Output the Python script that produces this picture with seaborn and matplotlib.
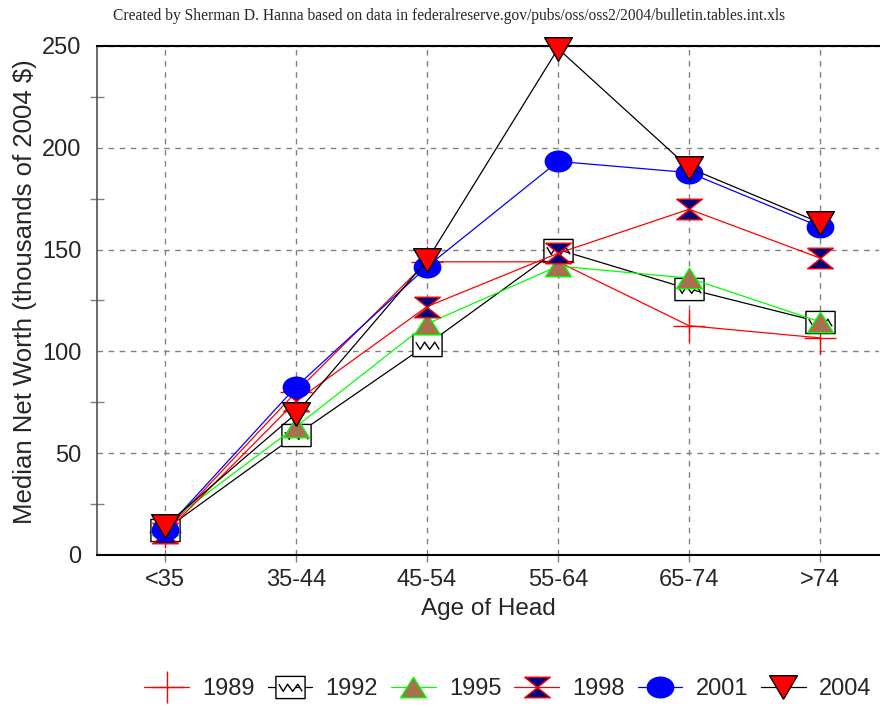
import numpy as np
import pandas as pd
import matplotlib
matplotlib.use('Agg')
import matplotlib.pyplot as plt
from matplotlib.path import Path
from matplotlib.ticker import MultipleLocator
import seaborn as sns

# Data (thousands of 2004 $)
age_groups = ['<35', '35-44', '45-54', '55-64', '65-74', '>74']
years = ['1989', '1992', '1995', '1998', '2001', '2004']
nw_1989 = [11.4, 80.0, 144.0, 144.0, 112.6, 106.6]
nw_1992 = [12.4, 58.9, 103.3, 150.0, 130.6, 114.4]
nw_1995 = [14.8, 63.0, 113.5, 141.9, 136.0, 114.5]
nw_1998 = [10.6, 75.5, 122.0, 148.2, 169.8, 145.8]
nw_2001 = [12.3, 82.6, 141.6, 193.3, 187.8, 161.2]
nw_2004 = [14.2, 69.4, 144.7, 248.7, 190.1, 163.1]

rows = []
for yr, vals in zip(years, [nw_1989, nw_1992, nw_1995, nw_1998, nw_2001, nw_2004]):
    for i, v in enumerate(vals):
        rows.append({'year': yr, 'age': i, 'worth': v})
df = pd.DataFrame(rows)


def scaled(verts, sx=1.0, sy=1.0, codes=None):
    v = np.asarray(verts, dtype=float) * [sx, sy]
    return Path(v, codes)


# custom marker shapes (slightly flattened like the original)
circ = Path.unit_circle()
ellipse = Path(circ.vertices * [1.0, 0.78], circ.codes)
tri_up = scaled([(0, 1), (-1, -1), (1, -1), (0, 1)], 1.0, 0.8)
tri_down = scaled([(0, -1), (-1, 1), (1, 1), (0, -1)], 1.0, 0.85)
hourglass = scaled([(-1, 1), (1, 1), (-1, -1), (1, -1), (-1, 1)], 1.0, 0.8)
sq_verts = [(-1, -1), (1, -1), (1, 1), (-1, 1), (-1, -1),
            (-0.8, 0.3), (-0.5, -0.35), (-0.2, 0.3), (0.15, -0.35), (0.5, 0.3), (0.8, -0.35)]
sq_codes = [Path.MOVETO, Path.LINETO, Path.LINETO, Path.LINETO, Path.CLOSEPOLY,
            Path.MOVETO, Path.LINETO, Path.LINETO, Path.LINETO, Path.LINETO, Path.LINETO]
zig_square = scaled(sq_verts, 1.0, 0.76, sq_codes)

styles = {
    '1989': dict(color='#ff0000', marker='+', ms=23, mec='#ff0000', mfc='none'),
    '1992': dict(color='black', marker=zig_square, ms=21, mec='black', mfc='white'),
    '1995': dict(color='#00ff00', marker=tri_up, ms=18.5, mec='#00ff00', mfc='#a8704f'),
    '1998': dict(color='#ff0000', marker=hourglass, ms=18.5, mec='#ff0000', mfc='#000080'),
    '2001': dict(color='#0000ff', marker=ellipse, ms=19, mec='#0000ff', mfc='#0000ff'),
    '2004': dict(color='black', marker=tri_down, ms=20, mec='black', mfc='#ff0000'),
}

sns.set_style('white')
plt.rcParams['font.family'] = ['Liberation Sans', 'DejaVu Sans']

fig = plt.figure(figsize=(8.8, 7.05), dpi=100)
ax = fig.add_axes([0.110, 0.2128, 0.889, 0.7220])

for yr in years:
    st = styles[yr]
    sns.lineplot(data=df[df['year'] == yr], x='age', y='worth', ax=ax,
                 color=st['color'], linewidth=0.9, marker=st['marker'],
                 markersize=st['ms'], markeredgecolor=st['mec'],
                 markerfacecolor=st['mfc'], markeredgewidth=1.0,
                 label=yr, sort=False, errorbar=None, clip_on=False, zorder=3)

ax.set_xlim(-0.52, 5.45)
ax.set_ylim(0, 250)
ax.set_xticks(range(len(age_groups)))
ax.set_xticklabels(age_groups)
ax.yaxis.set_major_locator(MultipleLocator(50))
ax.yaxis.set_minor_locator(MultipleLocator(25))

ax.grid(True, which='major', color='#808080', linestyle=(0, (4, 4)), linewidth=1.0)
ax.set_axisbelow(True)

for side in ['top', 'bottom']:
    ax.spines[side].set_color('black')
    ax.spines[side].set_linewidth(1.5)
ax.spines['left'].set_color('#505050')
ax.spines['left'].set_linewidth(1.2)
ax.spines['right'].set_visible(False)

ax.tick_params(axis='y', which='major', direction='out', length=7, width=1,
               color='#808080', labelsize=17, pad=4)
ax.tick_params(axis='y', which='minor', direction='inout', length=10, width=1,
               color='#808080', left=True)
ax.tick_params(axis='x', which='major', direction='out', length=5, width=1,
               color='#808080', labelsize=17, pad=5, bottom=True)

ax.set_xlabel('Age of Head', fontsize=17.5, labelpad=5)
ax.set_ylabel('Median Net Worth (thousands of 2004 $)', fontsize=18.5)
ax.yaxis.set_label_coords(-0.077, 0.517)

handles, labels = ax.get_legend_handles_labels()
ax.legend_.remove()
fig.legend(handles, labels, loc='center', bbox_to_anchor=(0.577, 0.022), ncol=6,
           frameon=False, fontsize=17, handlelength=1.9, handletextpad=0.55,
           columnspacing=0.55, borderaxespad=0)

fig.text(0.51, 0.978,
         'Created by Sherman D. Hanna based on data in federalreserve.gov/pubs/oss/oss2/2004/bulletin.tables.int.xls',
         ha='center', va='center', fontsize=11.2, family=['Liberation Serif', 'DejaVu Serif'])

fig.savefig('out.png', dpi=100)
plt.close(fig)
